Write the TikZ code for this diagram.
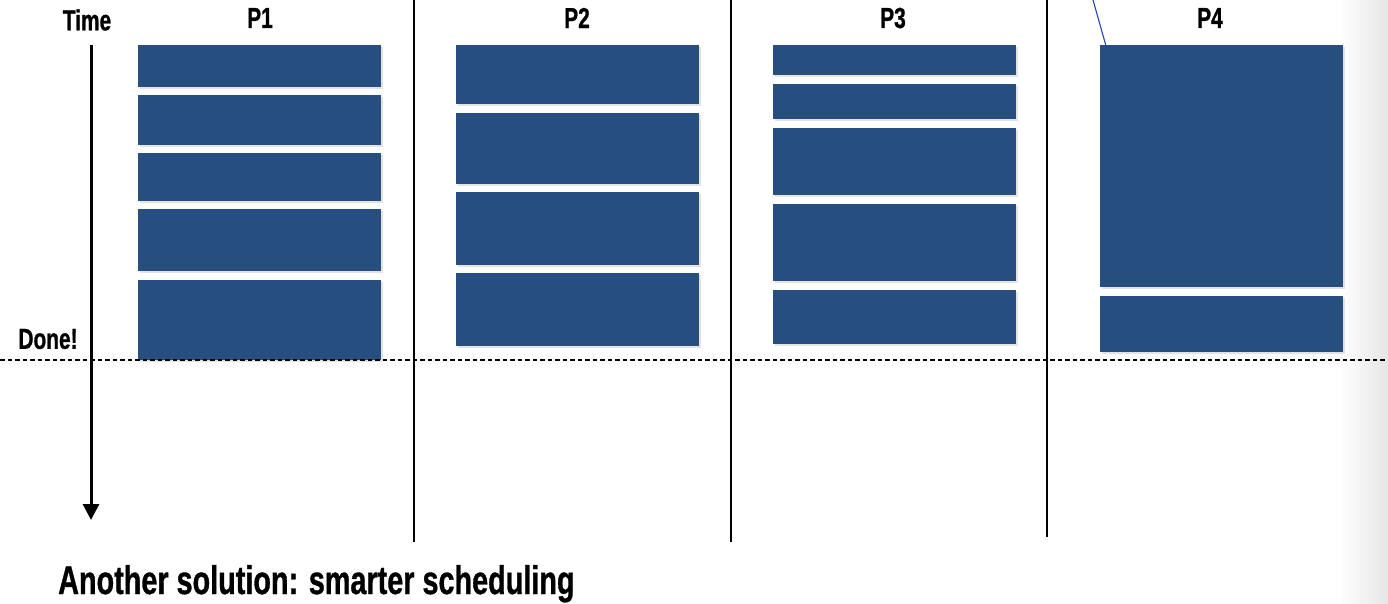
\documentclass[tikz,border=0pt]{standalone}
\usepackage{fontspec}
\newfontfamily\heavy{Liberation Sans}[UprightFont=* Bold, FakeStretch=0.72, FakeBold=0.8]
\usetikzlibrary{shadows,calc,arrows.meta}
\definecolor{blk}{RGB}{38,79,128}
\definecolor{linkblue}{RGB}{40,70,170}
\tikzset{
  seg/.style={fill=blk, draw=none, inner sep=0pt, outer sep=0pt, anchor=north west,
    minimum width=243pt, drop shadow={opacity=0.22, shadow xshift=1.8pt, shadow yshift=-1.8pt}},
  lbl/.style={font=\heavy\fontsize{29}{33}\selectfont, inner sep=0pt},
  sep/.style={line width=1.6pt, black},
}
\begin{document}
\begin{tikzpicture}[x=1pt,y=-1pt]
\useasboundingbox (0,0) rectangle (1388,604);
\fill[white] (0,0) rectangle (1388,604);
\shade[left color=white, right color=black!10] (1340,0) rectangle (1388,604);
% labels
\node[lbl] (time) at (87,20) {Time};
\node[lbl] (done) at (48,339) {Done!};
\node[lbl] (lp1) at (260,18) {P1};
\node[lbl] (lp2) at (577,18) {P2};
\node[lbl] (lp3) at (893,18) {P3};
\node[lbl] (lp4) at (1210,18) {P4};
\node[font=\heavy\fontsize{40}{44}\selectfont, inner sep=0pt, anchor=base west] (title) at (58,594) {Another solution: smarter scheduling};
% time axis
\coordinate (ts) at (91,45);
\coordinate (te) at (91,520);
\draw[line width=3pt, -{Triangle[length=16pt,width=16pt]}] (ts) -- (te);
% column separators
\coordinate (s1t) at (414,0); \coordinate (s1b) at (414,542);
\coordinate (s2t) at (731,0); \coordinate (s2b) at (731,542);
\coordinate (s3t) at (1047,0); \coordinate (s3b) at (1047,537);
\draw[sep] (s1t) -- (s1b);
\draw[sep] (s2t) -- (s2b);
\draw[sep] (s3t) -- (s3b);
% P1
\node[seg, minimum height=42pt] (a1) at (138,45) {};
\node[seg, minimum height=50pt] (a2) at (138,95) {};
\node[seg, minimum height=48pt] (a3) at (138,153) {};
\node[seg, minimum height=62pt] (a4) at (138,209) {};
\node[seg, minimum height=80pt] (a5) at (138,280) {};
% P2
\node[seg, minimum height=59pt] (b1) at (456,45) {};
\node[seg, minimum height=71pt] (b2) at (456,113) {};
\node[seg, minimum height=73pt] (b3) at (456,192) {};
\node[seg, minimum height=73pt] (b4) at (456,273) {};
% P3
\node[seg, minimum height=30pt] (c1) at (773,45) {};
\node[seg, minimum height=35pt] (c2) at (773,84) {};
\node[seg, minimum height=67pt] (c3) at (773,128) {};
\node[seg, minimum height=77pt] (c4) at (773,204) {};
\node[seg, minimum height=54pt] (c5) at (773,290) {};
% P4
\node[seg, minimum height=242pt] (d1) at (1100,45) {};
\node[seg, minimum height=56pt] (d2) at (1100,296) {};
% done line
\coordinate (dl) at (0,360);
\coordinate (dr) at (1386,360);
\draw[line width=1.8pt, dash pattern=on 4.5pt off 3pt] (dl) -- (dr);
% blue pointer
\coordinate (bp) at (1093,0);
\draw[linkblue, line width=1.1pt] (bp) -- ($(d1.north west)+(6,1)$);
\end{tikzpicture}
\end{document}
